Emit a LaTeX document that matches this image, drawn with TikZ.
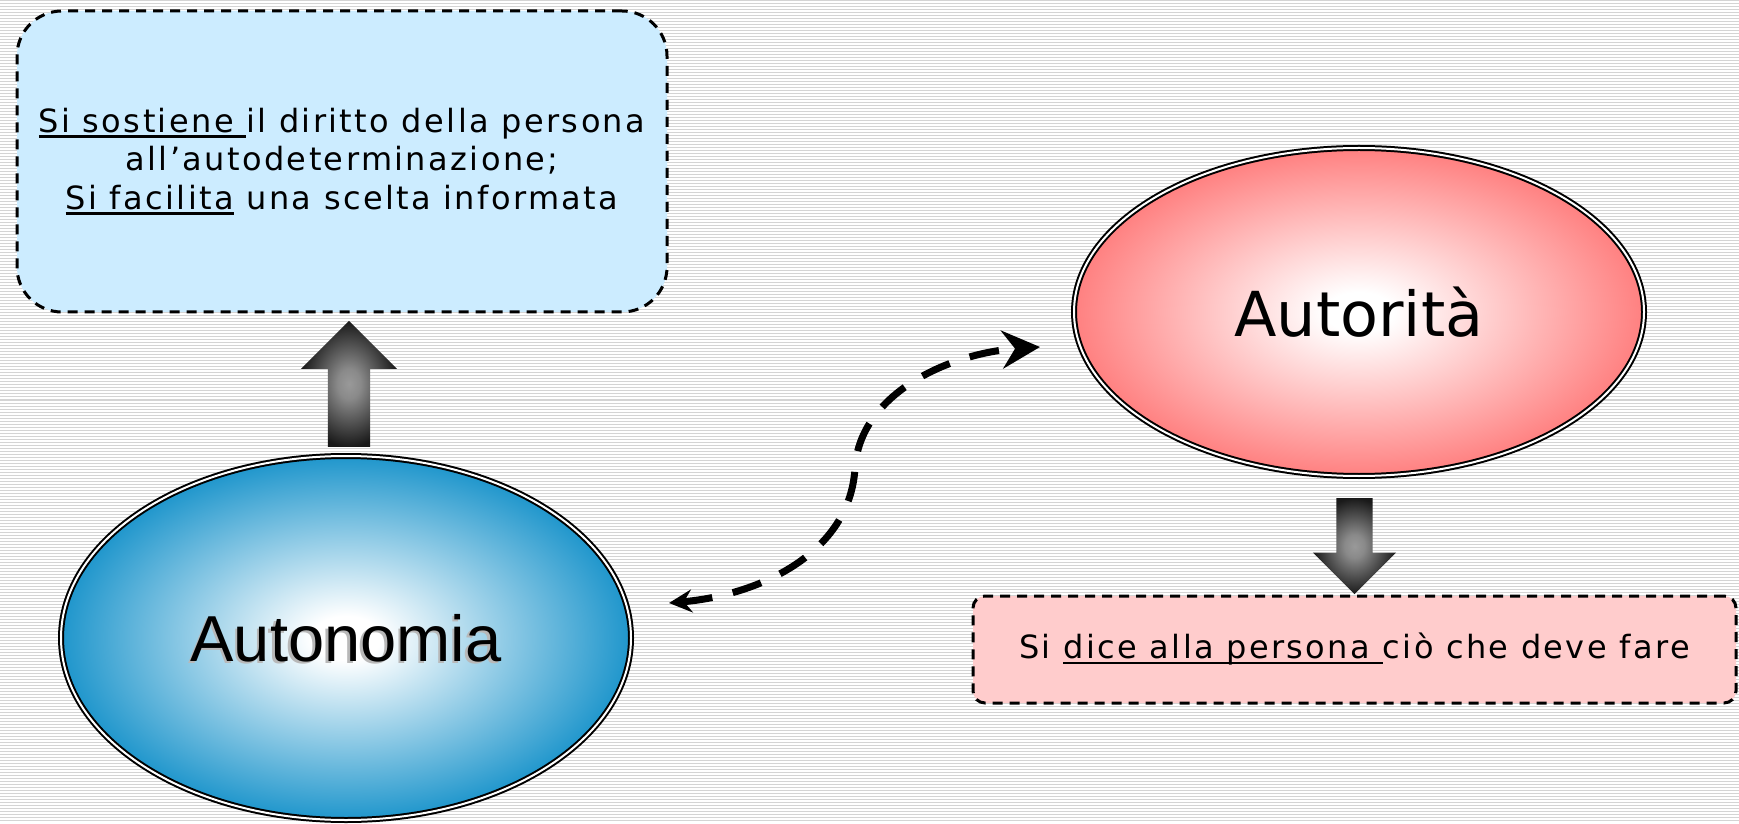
\documentclass[tikz,border=0pt]{standalone}
\usepackage{fontspec}
\setmainfont{DejaVu Sans}
\newfontfamily\narrowfont{Liberation Sans}
\usetikzlibrary{positioning,calc,shapes.geometric,shapes.arrows,arrows.meta}

\definecolor{autblue}{RGB}{31,150,204}
\definecolor{autred}{RGB}{255,128,128}
\definecolor{infoblue}{RGB}{204,236,255}
\definecolor{infopink}{RGB}{255,204,204}

\pgfdeclareradialshading{blueglow}{\pgfpoint{0bp}{0bp}}{color(0bp)=(white); color(3bp)=(white); color(25bp)=(autblue); color(50bp)=(autblue)}
\pgfdeclareradialshading{redglow}{\pgfpoint{0bp}{0bp}}{color(0bp)=(white); color(3bp)=(white); color(25bp)=(autred); color(50bp)=(autred)}
\pgfdeclareradialshading{greyglow}{\pgfpoint{0bp}{0bp}}{color(0bp)=(black!40); color(6bp)=(black!46); color(25bp)=(black!90); color(50bp)=(black!90)}

\newcommand{\ulined}[1]{\setbox0=\hbox{#1}\rlap{\rule[-5.5pt]{\wd0}{2.6pt}}\box0\relax}

\tikzset{
  stripe/.style={black!17, line width=1pt},
  infobox/.style={draw, line width=3pt, dash pattern=on 10pt off 7pt, inner sep=0pt, align=center,
                  font=\fontsize{32}{38.5}\selectfont\addfontfeatures{LetterSpace=7.5}},
  bubble/.style={ellipse, draw=black, double=white, double distance=2pt, line width=2pt, minimum width=570pt, inner sep=0pt},
  blockarrow/.style={single arrow, shade, shading=greyglow, inner xsep=0pt},
  link/.style={line width=7pt, dash pattern=on 30pt off 21pt}
}

\begin{document}
\begin{tikzpicture}[x=1pt,y=1pt]
  \useasboundingbox (0,0) rectangle (1739,823);
  \fill[white] (0,0) rectangle (1739,823);
  \foreach \k in {1,...,274}
    \draw[stripe] (0,3*\k) -- (1739,3*\k);

  % left side
  \node[infobox, fill=infoblue, rounded corners=45pt, minimum width=650pt, minimum height=301pt] (infobox) at (342,661.5)
    {\ulined{Si sostiene }il diritto della persona\\ all’autodeterminazione;\\ \ulined{Si facilita} una scelta informata};
  \node[bubble, minimum height=364pt, shade, shading=blueglow] (autonomia) at (346,185) {};
  \node[font=\narrowfont\fontsize{65}{70}\selectfont, text=black!28] (autonomiashadow) at ($(autonomia)+(-2.5,-2.5)$) {Autonomia};
  \node[font=\narrowfont\fontsize{65}{70}\selectfont] (autonomialabel) at (autonomia) {Autonomia};
  \node[blockarrow, rotate=90, anchor=tip, inner ysep=21pt, single arrow head extend=27pt, minimum height=126pt]
    (uparrow) at ($(infobox.south)+(7,-7)$) {};

  % right side
  \node[bubble, minimum height=328pt, shade, shading=redglow, font=\fontsize{62}{70}\selectfont] (autorita) at (1359,511) {Autorità};
  \node[infobox, fill=infopink, rounded corners=12pt, minimum width=763pt, minimum height=107pt] (pinkbox) at (1354.5,173.5)
    {Si \ulined{dice alla persona }ciò che deve fare};
  \node[blockarrow, rotate=-90, anchor=tip, inner ysep=18pt, single arrow head extend=23.5pt, minimum height=96pt]
    (downarrow) at (pinkbox.north) {};

  % link between the two
  \coordinate (linkstart) at (669,220);
  \coordinate (linkend) at (1040,476);
  \draw[link, {Stealth[length=23pt,width=23pt,inset=8pt]}-{Stealth[length=38pt,width=38pt,inset=13pt]}]
    (linkstart) .. controls (760,228) and (850,270) .. (855,355)
    .. controls (860,430) and (950,470) .. (linkend);
\end{tikzpicture}
\end{document}
